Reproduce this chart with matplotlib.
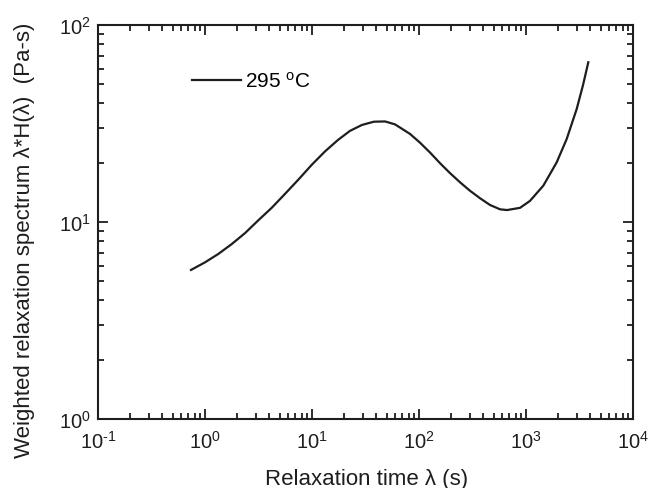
import matplotlib
matplotlib.use("Agg")
from matplotlib import pyplot as plt
from matplotlib.ticker import LogLocator, NullFormatter, FuncFormatter
import numpy as np

# Weighted relaxation spectrum
relax_time = [0.74, 1.00, 1.33, 1.78, 2.37, 3.15, 4.20, 5.60, 7.45, 9.93,
              13.2, 17.5, 22.6, 29.3, 37.9, 48.1, 59.7, 82.4, 102, 127,
              157, 195, 242, 300, 372, 461, 572, 664, 879, 1089,
              1452, 1936, 2400, 2977, 3410, 3819]
spectrum = [5.71, 6.24, 6.88, 7.73, 8.79, 10.2, 11.8, 13.9, 16.4, 19.5,
            22.8, 26.1, 29.0, 31.1, 32.3, 32.4, 31.3, 28.0, 25.3, 22.5,
            19.9, 17.7, 15.9, 14.4, 13.2, 12.2, 11.6, 11.5, 11.8, 12.8,
            15.3, 20.1, 26.4, 37.5, 49.6, 64.7]
series_label = "295 $^{\\rm o}$C"

plt.rcParams["font.family"] = ["Liberation Sans", "DejaVu Sans"]
plt.rcParams["mathtext.fontset"] = "custom"
plt.rcParams["mathtext.rm"] = "Liberation Sans"
plt.rcParams["mathtext.default"] = "regular"

ink = "#1e1e1e"


def decade_label(value, pos):
    # plain hyphen in the exponent, as in the original figure
    exp = int(round(np.log10(value)))
    return "$10^{\\text{%d}}$" % exp


fig = plt.figure(figsize=(6.48, 4.89), dpi=100)
ax = fig.add_axes([0.1512, 0.1411, 0.8257, 0.8057])

ax.plot(relax_time, spectrum, color=ink, lw=1.6, label=series_label,
        solid_joinstyle="round")

ax.set_xscale("log")
ax.set_yscale("log")
ax.set_xlim(0.1, 1e4)
ax.set_ylim(1, 100)

for axis in (ax.xaxis, ax.yaxis):
    axis.set_major_locator(LogLocator(base=10, numticks=10))
    axis.set_major_formatter(FuncFormatter(decade_label))
    axis.set_minor_locator(LogLocator(base=10, subs=range(2, 10), numticks=20))
    axis.set_minor_formatter(NullFormatter())

ax.tick_params(which="both", direction="in", top=True, right=True,
               width=1.3, labelsize=14.5, colors=ink)
ax.tick_params(which="major", length=7)
ax.tick_params(which="minor", length=4)
ax.tick_params(axis="x", pad=8)
ax.tick_params(axis="y", pad=5)
for spine in ax.spines.values():
    spine.set_linewidth(1.5)
    spine.set_color(ink)

ax.set_xlabel("Relaxation time λ (s)", fontsize=16, color=ink)
ax.set_ylabel("Weighted relaxation spectrum λ*H(λ)  (Pa-s)", fontsize=16,
              color=ink)
ax.xaxis.set_label_coords(0.502, -0.125)
ax.yaxis.set_label_coords(-0.118, 0.455)

ax.legend(loc="center left", bbox_to_anchor=(0.1757, 0.858), frameon=False,
          fontsize=15, handlelength=2.35, handletextpad=0.2,
          borderpad=0, borderaxespad=0)

fig.savefig("out.png", dpi=100)
